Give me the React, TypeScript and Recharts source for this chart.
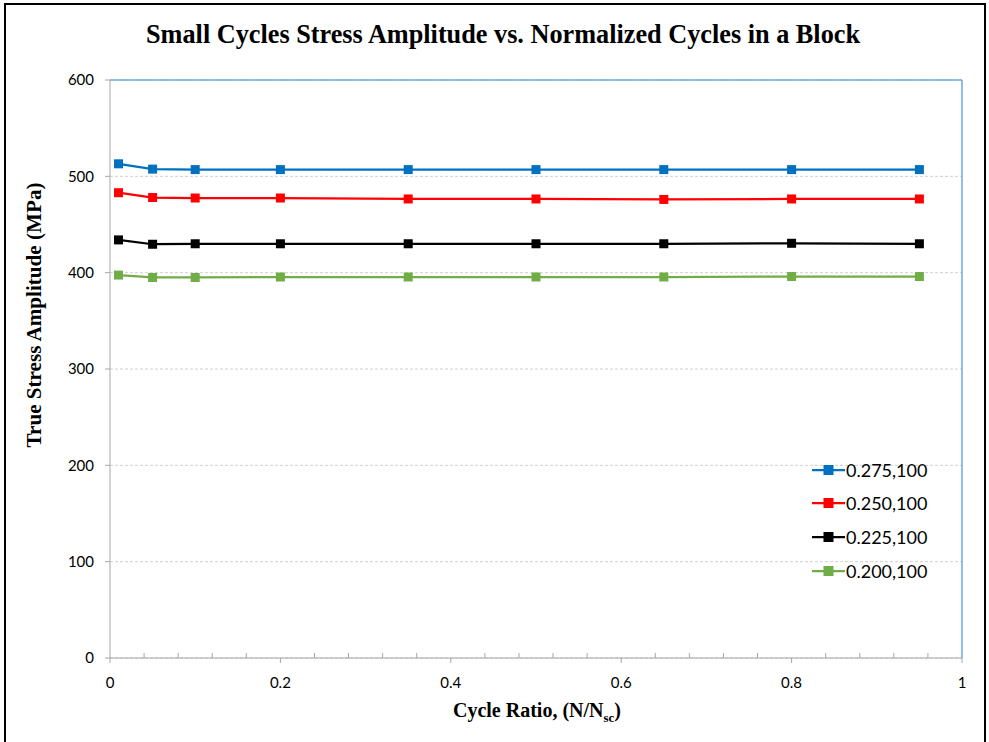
import React from 'react'
import { LineChart, Line, XAxis, YAxis, CartesianGrid, ReferenceLine, Legend } from 'recharts'

const cycleRatio = [0.01, 0.05, 0.1, 0.2, 0.35, 0.5, 0.65, 0.8, 0.95]
const s275 = [513, 507.5, 507, 507, 507, 507, 507, 507, 507]
const s250 = [483, 478, 477.5, 477.5, 476.5, 476.5, 476, 476.5, 476.5]
const s225 = [434, 429.5, 430, 430, 430, 430, 430, 430.5, 430]
const s200 = [397.5, 395, 395, 395.5, 395.5, 395.5, 395.5, 396, 396]

const xTicks = [0, 0.04, 0.08, 0.12, 0.16, 0.2, 0.24, 0.28, 0.32, 0.36, 0.4, 0.44, 0.48, 0.52, 0.56, 0.6, 0.64, 0.68, 0.72, 0.76, 0.8, 0.84, 0.88, 0.92, 0.96, 1]
const xMajor = [0, 0.2, 0.4, 0.6, 0.8, 1]
const yTicks = [0, 100, 200, 300, 400, 500, 600]

const series = [
  { key: 's275', name: '0.275,100', color: '#0070C0', values: s275 },
  { key: 's250', name: '0.250,100', color: '#FF0000', values: s250 },
  { key: 's225', name: '0.225,100', color: '#000000', values: s225 },
  { key: 's200', name: '0.200,100', color: '#70AD47', values: s200 },
]

const data = cycleRatio.map((x, i) => {
  const row: any = { x }
  series.forEach(s => { row[s.key] = s.values[i] })
  return row
})

const FONT = 'Lato, "Open Sans", sans-serif'
const SERIF = '"Liberation Serif", "Times New Roman", serif'
const AXIS_GRAY = '#a6a6a6'

const Square = (color: string) => (props: any) => {
  const { cx, cy, index } = props
  if (cx == null || cy == null) return null
  return <rect key={index} x={cx - 4.5} y={cy - 4.5} width={9} height={9} fill={color} />
}

const XTick = (props: any) => {
  const { x, y, payload } = props
  const axisY = y - 19
  const major = xMajor.some(m => Math.abs(m - payload.value) < 1e-6)
  return (
    <g>
      {major
        ? <line x1={x} x2={x} y1={axisY} y2={axisY + 5} stroke={AXIS_GRAY} />
        : <line x1={x} x2={x} y1={axisY} y2={axisY - 5} stroke={AXIS_GRAY} />}
      {major && (
        <text x={x} y={y} dy="0.71em" textAnchor="middle" fontFamily={FONT} fontSize={15} fill="#000">
          {String(payload.value)}
        </text>
      )}
    </g>
  )
}

const YTick = (props: any) => {
  const { x, y, payload } = props
  return (
    <text x={x} y={y} dy="0.355em" textAnchor="end" fontFamily={FONT} fontSize={15} fill="#000">
      {String(payload.value)}
    </text>
  )
}

const renderLegend = () => (
  <div>
    {series.map(s => (
      <div key={s.key} style={{ display: 'flex', alignItems: 'center', height: 33.6 }}>
        <svg width={33} height={12} style={{ display: 'block' }}>
          <line x1={0} x2={33} y1={6} y2={6} stroke={s.color} strokeWidth={2.25} />
          <rect x={11.5} y={1} width={10} height={10} fill={s.color} />
        </svg>
        <span style={{ fontFamily: FONT, fontSize: 18, color: '#000', marginLeft: 1 }}>{s.name}</span>
      </div>
    ))}
  </div>
)

export default function App() {
  return (
    <div style={{ position: 'fixed', left: 0, top: 0, width: 989, height: 742, overflow: 'hidden', background: '#fff' }}>
      <div style={{ position: 'absolute', left: 4, top: 3, width: 982, height: 800, border: '2px solid #000', boxSizing: 'border-box' }} />
      <div style={{ position: 'absolute', left: 0, top: 0 }}>
        <LineChart width={989} height={742} data={data} margin={{ top: 80, right: 27, left: 0, bottom: 54 }}>
          <CartesianGrid vertical={false} stroke="#d0d0d0" strokeDasharray="3 2" />
          <XAxis
            dataKey="x"
            type="number"
            domain={[0, 1]}
            ticks={xTicks}
            interval={0}
            height={30}
            tickLine={false}
            tickSize={5}
            tickMargin={14}
            axisLine={{ stroke: AXIS_GRAY }}
            tick={<XTick />}
          />
          <YAxis
            type="number"
            domain={[0, 600]}
            ticks={yTicks}
            interval={0}
            width={110}
            tickSize={5}
            tickMargin={11}
            tickLine={{ stroke: AXIS_GRAY }}
            axisLine={{ stroke: AXIS_GRAY }}
            tick={<YTick />}
          />
          <ReferenceLine y={600} stroke="#6FA8DC" strokeWidth={1.5} />
          <ReferenceLine x={1} stroke="#6FA8DC" strokeWidth={1.5} />
          {series.map(s => (
            <Line
              key={s.key}
              type="linear"
              dataKey={s.key}
              name={s.name}
              stroke={s.color}
              strokeWidth={2.25}
              dot={Square(s.color)}
              activeDot={false}
              isAnimationActive={false}
            />
          ))}
          <Legend
            layout="vertical"
            align="center"
            verticalAlign="middle"
            content={renderLegend}
            wrapperStyle={{ left: 812, top: 453, width: 150, height: 140 }}
          />
        </LineChart>
      </div>
      <svg width={989} height={742} style={{ position: 'absolute', left: 0, top: 0, pointerEvents: 'none' }}>
        <text x={503} y={43} textAnchor="middle" fontFamily={SERIF} fontWeight="bold" fontSize={28} textLength={714} lengthAdjust="spacingAndGlyphs" fill="#000">
          Small Cycles Stress Amplitude vs. Normalized Cycles in a Block
        </text>
        <text transform="translate(41,315) rotate(-90)" textAnchor="middle" fontFamily={SERIF} fontWeight="bold" fontSize={21} textLength={265} lengthAdjust="spacingAndGlyphs" fill="#000">
          True Stress Amplitude (MPa)
        </text>
        <text x={537} y={717} textAnchor="middle" fontFamily={SERIF} fontWeight="bold" fontSize={20} fill="#000">
          Cycle Ratio, (N/N<tspan fontSize={13} dy={5}>sc</tspan><tspan dy={-5}>)</tspan>
        </text>
      </svg>
    </div>
  )
}
